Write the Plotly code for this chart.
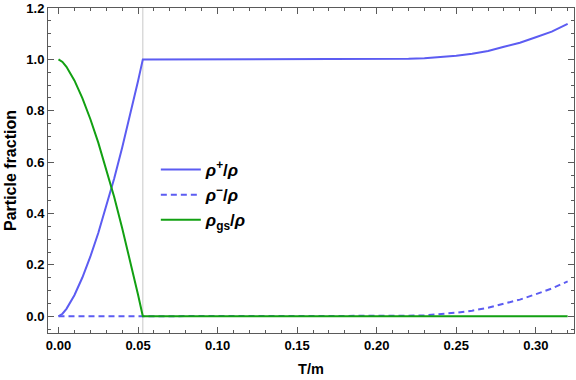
import plotly.graph_objects as go

# temperature grid T/m
t_vals = [0.0, 0.0025, 0.005, 0.0075, 0.01, 0.015, 0.02, 0.025, 0.03, 0.035, 0.04, 0.045, 0.05, 0.053,
          0.06, 0.08, 0.10, 0.12, 0.14, 0.16, 0.18, 0.20, 0.21, 0.22, 0.23, 0.24,
          0.25, 0.26, 0.27, 0.28, 0.29, 0.30, 0.31, 0.32]

# particle fractions
rho_plus = [0.0, 0.010, 0.029, 0.053, 0.082, 0.151, 0.232, 0.324, 0.426, 0.536, 0.656, 0.782, 0.916, 1.0,
            1.0, 1.0, 1.0, 1.0, 1.0, 1.0, 1.0, 1.0, 1.001, 1.002, 1.004, 1.008,
            1.014, 1.022, 1.033, 1.049, 1.065, 1.086, 1.108, 1.138]
rho_minus = [0.0, 0.0, 0.0, 0.0, 0.0, 0.0, 0.0, 0.0, 0.0, 0.0, 0.0, 0.0, 0.0, 0.0,
             0.0, 0.0, 0.0, 0.0, 0.0, 0.0, 0.0, 0.0, 0.001, 0.002, 0.004, 0.008,
             0.014, 0.022, 0.033, 0.049, 0.065, 0.086, 0.108, 0.136]
rho_gs = [1.0, 0.990, 0.971, 0.947, 0.918, 0.849, 0.768, 0.676, 0.574, 0.464, 0.344, 0.218, 0.084, 0.0,
          0.0, 0.0, 0.0, 0.0, 0.0, 0.0, 0.0, 0.0, 0.0, 0.0, 0.0, 0.0,
          0.0, 0.0, 0.0, 0.0, 0.0, 0.0, 0.0, 0.0]

t_crit = 0.053

BLUE = "#5c5cf2"
GREEN = "#12a012"
FRAME = "#5a5a5a"

fig = go.Figure()
fig.add_trace(go.Scatter(x=t_vals, y=rho_plus, mode="lines",
                         line=dict(color=BLUE, width=2),
                         name="<b><i>ρ</i><sup>+</sup>/<i>ρ</i></b>"))
fig.add_trace(go.Scatter(x=t_vals, y=rho_minus, mode="lines",
                         line=dict(color=BLUE, width=2, dash="6px,4px"),
                         name="<b><i>ρ</i><sup>−</sup>/<i>ρ</i></b>"))
fig.add_trace(go.Scatter(x=t_vals, y=rho_gs, mode="lines",
                         line=dict(color=GREEN, width=2),
                         name="<b><i>ρ</i><sub>gs</sub>/<i>ρ</i></b>"))

# critical temperature marker
fig.add_vline(x=t_crit, line=dict(color="#c8c8c8", width=1), layer="below")

axis_common = dict(
    showline=True, linecolor=FRAME, linewidth=1, mirror="ticks",
    ticks="inside", tickcolor=FRAME, ticklen=6, showgrid=False, zeroline=False,
    automargin=False,
    tickfont=dict(family="Liberation Sans", size=13, color="black", weight="bold"),
)

fig.update_xaxes(
    range=[-0.0066, 0.324], dtick=0.05, tick0=0, tickformat=".2f",
    minor=dict(dtick=0.01, ticks="inside", ticklen=3, tickcolor=FRAME),
    title=dict(text="<b>T/m</b>", font=dict(family="Liberation Sans", size=14.5, color="black"),
               standoff=12),
    **axis_common,
)
fig.update_yaxes(
    range=[-0.065, 1.2], dtick=0.2, tick0=0, tickformat=".1f",
    minor=dict(dtick=0.05, ticks="inside", ticklen=3, tickcolor=FRAME),
    title=dict(text="<b>Particle fraction</b>", font=dict(family="Liberation Sans", size=16, color="black"),
               standoff=5),
    **axis_common,
)

fig.update_layout(
    width=576, height=380,
    margin=dict(l=48, r=2, t=8, b=47),
    paper_bgcolor="white", plot_bgcolor="white",
    showlegend=True,
    legend=dict(x=0.205, y=0.557, xanchor="left", yanchor="top",
                itemwidth=40,
                bgcolor="rgba(0,0,0,0)",
                font=dict(family="Liberation Sans", size=17, color="black")),
)

# drop the default page margin so the figure sits at the window origin
fig.write_html("out.html", config={"displayModeBar": False},
               post_script="document.body.style.margin='0';")
